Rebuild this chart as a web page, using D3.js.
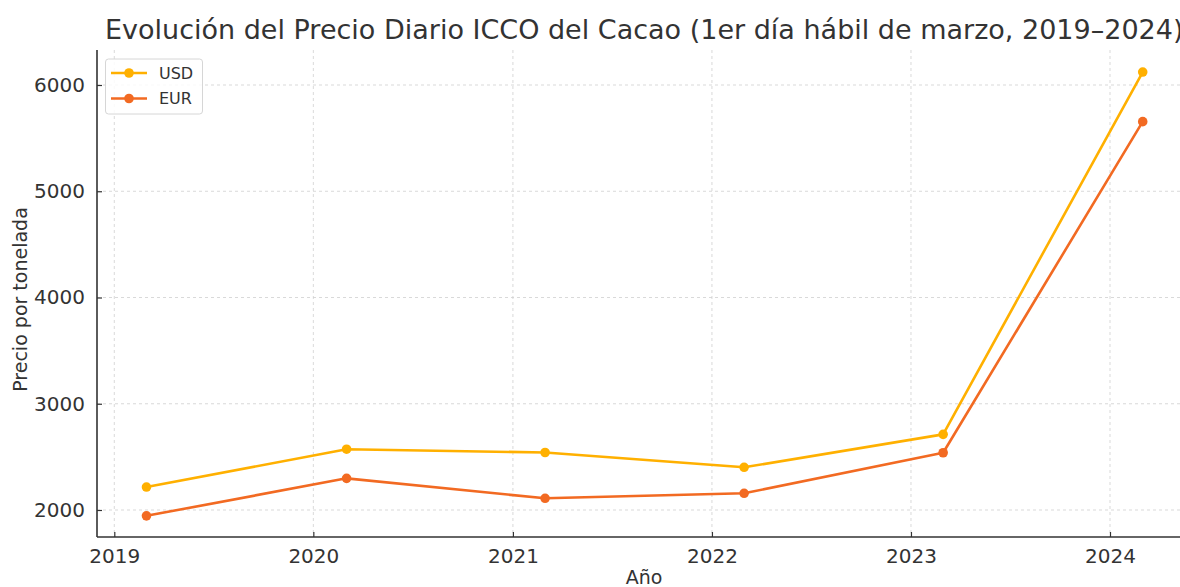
<!DOCTYPE html>
<html>
<head>
<meta charset="utf-8">
<script src="https://cdn.jsdelivr.net/npm/d3@7"></script>
<style>
  body { margin: 0; background: #fff; }
  text { font-family: "DejaVu Sans", sans-serif; fill: #333; }
</style>
</head>
<body>
<svg id="chart" width="1180" height="587"></svg>
<script>
// Data
const fechas = ["2019-03-01", "2020-03-02", "2021-03-01", "2022-03-01", "2023-03-01", "2024-03-01"];
const usd = [2216, 2572, 2541, 2402, 2712, 6122];
const eur = [1945, 2298, 2110, 2157, 2539, 5655];
const yTicks = [2000, 3000, 4000, 5000, 6000];
const xTickYears = [2019, 2020, 2021, 2022, 2023, 2024];

const series = [
    {name: "USD", values: usd, color: "#FFB000"},
    {name: "EUR", values: eur, color: "#F26A22"}
];

const svg = d3.select("#chart");
const plot = {left: 97, top: 50, right: 1180, bottom: 537};
const parse = d3.timeParse("%Y-%m-%d");

// x: time scale, y: linear
const x = d3.scaleTime()
    .domain([new Date(2019, 0, 1), new Date(2024, 0, 1)])
    .range([114.3, 1110]);

const y = d3.scaleLinear()
    .domain([2000, 6000])
    .range([510, 85]);

const xTickDates = xTickYears.map(yr => new Date(yr, 0, 1));

// Grid
const grid = svg.append("g").attr("stroke", "#cfcfcf").attr("stroke-width", 0.8)
    .attr("stroke-dasharray", "3,3");
grid.selectAll(".vg").data(xTickDates).enter().append("line")
    .attr("x1", d => x(d)).attr("x2", d => x(d))
    .attr("y1", plot.top).attr("y2", plot.bottom);
grid.selectAll(".hg").data(yTicks).enter().append("line")
    .attr("x1", plot.left).attr("x2", plot.right)
    .attr("y1", d => y(d)).attr("y2", d => y(d));

// Axes (ticks pointing inward)
const xAxis = d3.axisBottom(x)
    .tickValues(xTickDates)
    .tickFormat(d3.timeFormat("%Y"))
    .tickSizeInner(-5)
    .tickSizeOuter(0)
    .tickPadding(12);

const gx = svg.append("g")
    .attr("transform", `translate(0,${plot.bottom})`)
    .call(xAxis);
gx.select(".domain").remove();
gx.selectAll("line").attr("stroke", "#333").attr("stroke-width", 1.2);
gx.selectAll("text").style("font-size", "20px").style("fill", "#333")
    .style("font-family", "DejaVu Sans, sans-serif");

const yAxis = d3.axisLeft(y)
    .tickValues(yTicks)
    .tickFormat(d3.format("d"))
    .tickSizeInner(-5)
    .tickSizeOuter(0)
    .tickPadding(12);

const gy = svg.append("g")
    .attr("transform", `translate(${plot.left},0)`)
    .call(yAxis);
gy.select(".domain").remove();
gy.selectAll("line").attr("stroke", "#333").attr("stroke-width", 1.2);
gy.selectAll("text").style("font-size", "20px").style("fill", "#333")
    .style("font-family", "DejaVu Sans, sans-serif");

// Spines
svg.append("line").attr("x1", plot.left).attr("x2", plot.left)
    .attr("y1", plot.top).attr("y2", plot.bottom)
    .attr("stroke", "#333").attr("stroke-width", 1.6);
svg.append("line").attr("x1", plot.left).attr("x2", plot.right)
    .attr("y1", plot.bottom).attr("y2", plot.bottom)
    .attr("stroke", "#333").attr("stroke-width", 1.6);

// Lines and markers
const line = d3.line()
    .x((d, i) => x(parse(fechas[i])))
    .y(d => y(d));

series.forEach(s => {
    svg.append("path")
        .datum(s.values)
        .attr("fill", "none")
        .attr("stroke", s.color)
        .attr("stroke-width", 2.6)
        .attr("stroke-linejoin", "round")
        .attr("d", line);

    svg.selectAll(null)
        .data(s.values)
        .enter()
        .append("circle")
        .attr("cx", (d, i) => x(parse(fechas[i])))
        .attr("cy", d => y(d))
        .attr("r", 4.8)
        .attr("fill", s.color);
});

// Legend
const legend = svg.append("g");
legend.append("rect")
    .attr("x", 105.5).attr("y", 59)
    .attr("width", 97).attr("height", 55)
    .attr("rx", 3)
    .attr("fill", "white").attr("fill-opacity", 0.85)
    .attr("stroke", "#d6d6d6").attr("stroke-width", 1);

series.forEach((s, i) => {
    const cy = 73 + i * 25.5;
    legend.append("line")
        .attr("x1", 111).attr("x2", 147)
        .attr("y1", cy).attr("y2", cy)
        .attr("stroke", s.color).attr("stroke-width", 2.6);
    legend.append("circle")
        .attr("cx", 129).attr("cy", cy).attr("r", 4.8)
        .attr("fill", s.color);
    legend.append("text")
        .attr("x", 159).attr("y", cy)
        .attr("dy", "0.36em")
        .style("font-size", "16px")
        .text(s.name);
});

// Title and axis labels
svg.append("text")
    .attr("x", 105).attr("y", 39)
    .style("font-size", "27px")
    .text("Evolución del Precio Diario ICCO del Cacao (1er día hábil de marzo, 2019–2024)");

svg.append("text")
    .attr("x", 644).attr("y", 584)
    .attr("text-anchor", "middle")
    .style("font-size", "19px")
    .text("Año");

svg.append("text")
    .attr("transform", "rotate(-90)")
    .attr("x", -(plot.top + plot.bottom) / 2 - 6)
    .attr("y", 27)
    .attr("text-anchor", "middle")
    .style("font-size", "19px")
    .text("Precio por tonelada");
</script>
</body>
</html>
